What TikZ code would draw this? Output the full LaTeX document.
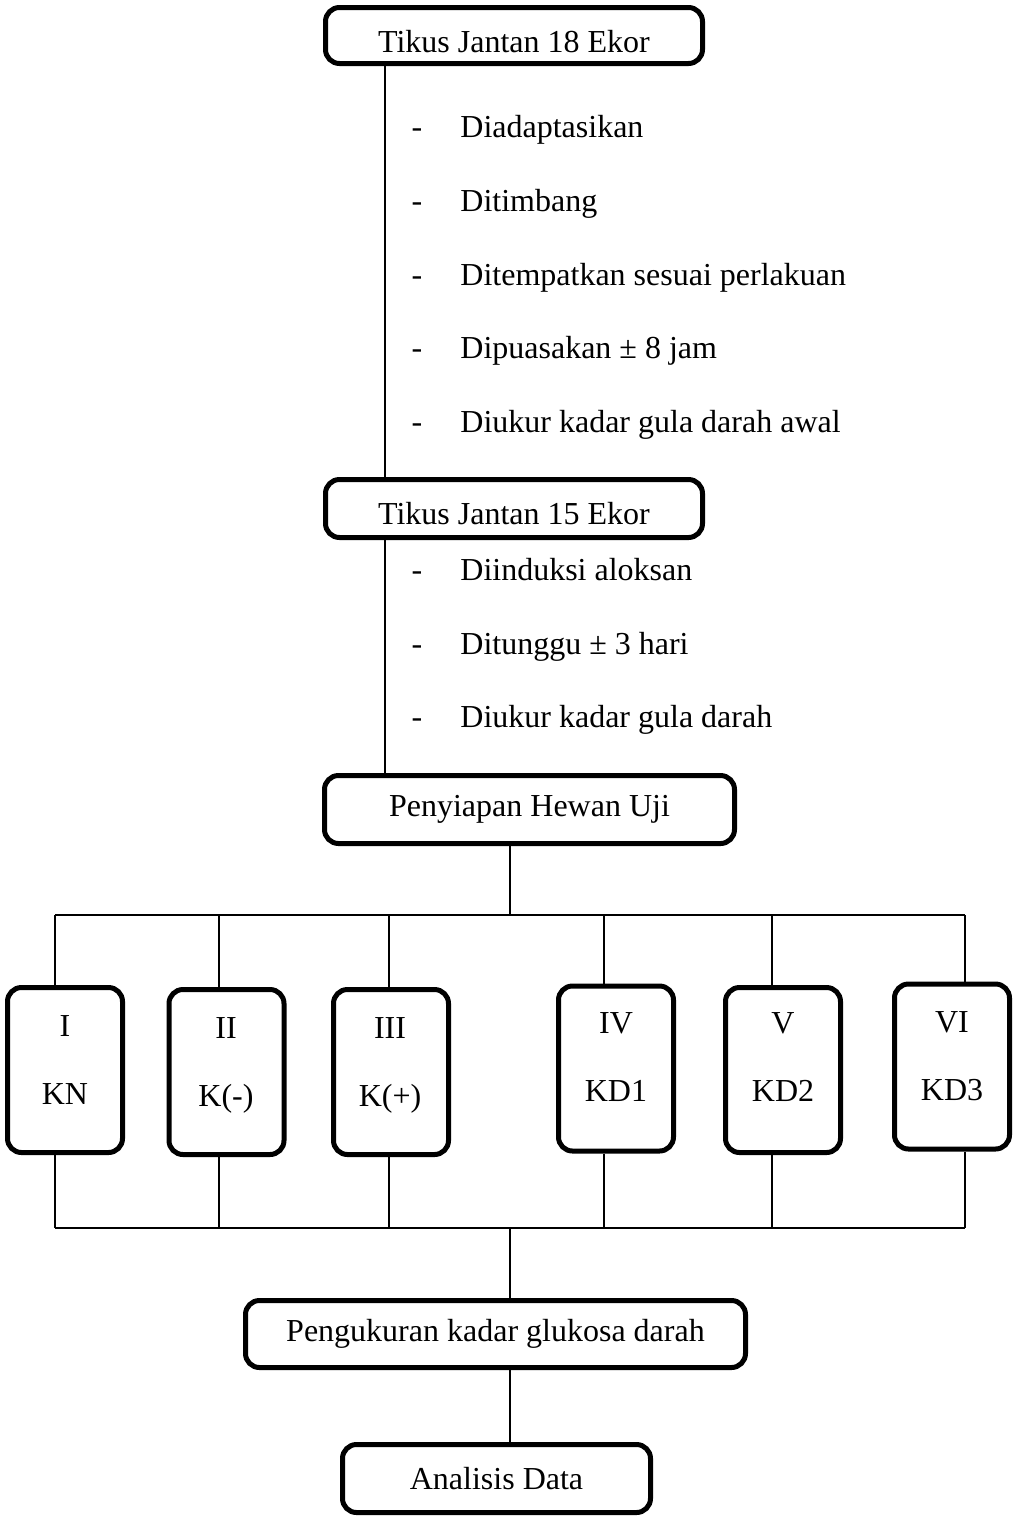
\documentclass[tikz,border=0pt]{standalone}
\usepackage{fontspec}
\setmainfont{Liberation Serif}

\tikzset{
  box/.style={draw, line width=2.5pt, rounded corners=7pt, inner sep=0pt},
  grp/.style={box, minimum width=57.5pt, minimum height=82.5pt},
  link/.style={line width=1pt},
  item/.style={anchor=base west, inner sep=0pt},
  lbl/.style={anchor=base, inner sep=0pt}
}

\begin{document}
\begin{tikzpicture}[x=0.5pt,y=-0.5pt,
    every node/.append style={font=\fontsize{16}{19}\selectfont}]
  \useasboundingbox (0,0) rectangle (1013,1517);

  % main boxes
  \node[box, minimum width=188.5pt, minimum height=28pt, text height=17pt, text depth=0pt] (s1) at (514,35.5) {Tikus Jantan 18 Ekor};
  \node[box, minimum width=188.5pt, minimum height=29pt, text height=16pt, text depth=0pt] (s2) at (514,508.5) {Tikus Jantan 15 Ekor};
  \node[box, minimum width=205pt, minimum height=34pt] (s3) at (529.5,809.5) {Penyiapan Hewan Uji};
  \node[box, minimum width=250pt, minimum height=33.5pt] (m1) at (495.5,1334) {Pengukuran kadar glukosa darah};
  \node[box, minimum width=154pt, minimum height=34pt] (m2) at (496.5,1478.5) {Analisis Data};

  % steps
  \node[lbl] (d1) at (417,137) {-};  \node[item] (l1) at (460,137) {Diadaptasikan};
  \node[lbl] (d2) at (417,211) {-};  \node[item] (l2) at (460,211) {Ditimbang};
  \node[lbl] (d3) at (417,285) {-};  \node[item] (l3) at (460,285) {Ditempatkan sesuai perlakuan};
  \node[lbl] (d4) at (417,358) {-};  \node[item] (l4) at (460,358) {Dipuasakan ± 8 jam};
  \node[lbl] (d5) at (417,432) {-};  \node[item] (l5) at (460,432) {Diukur kadar gula darah awal};
  \node[lbl] (d6) at (417,580) {-};  \node[item] (l6) at (460,580) {Diinduksi aloksan};
  \node[lbl] (d7) at (417,654) {-};  \node[item] (l7) at (460,654) {Ditunggu ± 3 hari};
  \node[lbl] (d8) at (417,727) {-};  \node[item] (l8) at (460,727) {Diukur kadar gula darah};

  % groups
  \node[grp] (g1) at (65,1070) {};
  \node[grp] (g2) at (226.5,1072) {};
  \node[grp] (g3) at (391,1072) {};
  \node[grp] (g4) at (616,1068.5) {};
  \node[grp] (g5) at (783,1070) {};
  \node[grp] (g6) at (952,1066.5) {};

  \node[lbl] (n1) at (65,1036) {I};    \node[lbl] (k1) at (65,1104) {KN};
  \node[lbl] (n2) at (226,1038) {II};  \node[lbl] (k2) at (226,1106) {K(-)};
  \node[lbl] (n3) at (390,1038) {III}; \node[lbl] (k3) at (390,1106) {K(+)};
  \node[lbl] (n4) at (616,1033) {IV};  \node[lbl] (k4) at (616,1101) {KD1};
  \node[lbl] (n5) at (783,1033) {V};   \node[lbl] (k5) at (783,1101) {KD2};
  \node[lbl] (n6) at (952,1032) {VI};  \node[lbl] (k6) at (952,1100) {KD3};

  % bus points
  \coordinate (spine) at (385,0);
  \coordinate (bt) at (510,915);
  \coordinate (bb) at (510,1228);
  \coordinate (t1) at (55,915);   \coordinate (b1) at (55,1228);
  \coordinate (t2) at (219,915);  \coordinate (b2) at (219,1228);
  \coordinate (t3) at (389,915);  \coordinate (b3) at (389,1228);
  \coordinate (t4) at (604,915);  \coordinate (b4) at (604,1228);
  \coordinate (t5) at (772,915);  \coordinate (b5) at (772,1228);
  \coordinate (t6) at (965,915);  \coordinate (b6) at (965,1228);

  % connectors
  \draw[link] (s1.south -| spine) -- (s2.north -| spine);
  \draw[link] (s2.south -| spine) -- (s3.north -| spine);
  \draw[link] (s3.south -| bt) -- (bt);
  \draw[link] (t1) -- (t6);
  \draw[link] (b1) -- (b6);
  \draw[link] (t1) -- (t1 |- g1.north);  \draw[link] (g1.south -| b1) -- (b1);
  \draw[link] (t2) -- (t2 |- g2.north);  \draw[link] (g2.south -| b2) -- (b2);
  \draw[link] (t3) -- (t3 |- g3.north);  \draw[link] (g3.south -| b3) -- (b3);
  \draw[link] (t4) -- (t4 |- g4.north);  \draw[link] (g4.south -| b4) -- (b4);
  \draw[link] (t5) -- (t5 |- g5.north);  \draw[link] (g5.south -| b5) -- (b5);
  \draw[link] (t6) -- (t6 |- g6.north);  \draw[link] (g6.south -| b6) -- (b6);
  \draw[link] (bb) -- (bb |- m1.north);
  \draw[link] (m1.south -| bb) -- (m2.north -| bb);
\end{tikzpicture}
\end{document}
